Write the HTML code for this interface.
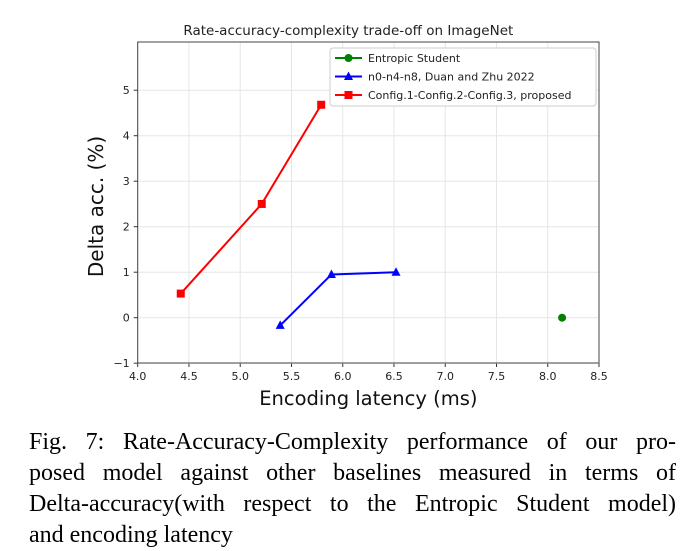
<!DOCTYPE html>
<html><head><meta charset="utf-8"><style>
body{margin:0;background:#fff;width:688px;height:547px;overflow:hidden;position:relative}
svg text{font-family:"DejaVu Sans","Liberation Sans",sans-serif}
.cap{position:absolute;left:29px;top:427px;width:647px;font-family:"Liberation Serif",serif;font-size:24px;line-height:31px;color:#000}
.cap div{text-align:justify;text-align-last:justify;white-space:nowrap}
.cap div.last{text-align-last:left}
</style></head><body>
<svg id="chart" width="688" height="420" style="position:absolute;left:0;top:0"></svg>
<div class="cap">
<div>Fig. 7: Rate-Accuracy-Complexity performance of our pro-</div>
<div>posed model against other baselines measured in terms of</div>
<div>Delta-accuracy(with respect to the Entropic Student model)</div>
<div class="last">and encoding latency</div>
</div>
<script>
const xTicks=[4.0,4.5,5.0,5.5,6.0,6.5,7.0,7.5,8.0,8.5];
const yTicks=[-1,0,1,2,3,4,5];
const entropicX=[8.14], entropicY=[0];
const duanX=[5.39,5.89,6.52], duanY=[-0.17,0.95,1.0];
const propX=[4.42,5.21,5.79], propY=[0.53,2.5,4.68];
const L=137.7,R=599,T=42,B=363;
const X=v=>L+(v-4)/(4.5)*(R-L);
const Y=v=>317.7-v*45.5;
const svg=document.getElementById('chart');
const NS='http://www.w3.org/2000/svg';
function mk(t,a,p){const e=document.createElementNS(NS,t);for(const k in a)e.setAttribute(k,a[k]);(p||svg).appendChild(e);return e;}
xTicks.forEach(v=>{const l=mk('line',{x1:X(v),x2:X(v),y1:T,y2:B,stroke:'#e6e6e6','stroke-width':1});

mk('line',{x1:X(v),x2:X(v),y1:B,y2:B+4,stroke:'#333'});
const t=mk('text',{x:X(v),y:B+17,'text-anchor':'middle','font-size':11,fill:'#222'});t.textContent=v.toFixed(1);
});
yTicks.forEach(v=>{const l=mk('line',{x1:L,x2:R,y1:Y(v),y2:Y(v),stroke:'#e6e6e6','stroke-width':1});

mk('line',{x1:L-4,x2:L,y1:Y(v),y2:Y(v),stroke:'#333'});
const t=mk('text',{x:L-8,y:Y(v)+4,'text-anchor':'end','font-size':11,fill:'#222'});t.textContent=v<0?'\u2212'+Math.abs(v):String(v);
});
const fr=mk('rect',{x:L,y:T,width:R-L,height:B-T,fill:'none',stroke:'#444','stroke-width':1});

function series(xs,ys,color,marker,name){
 const g=mk('g',{});
 if(xs.length>1)mk('polyline',{points:xs.map((x,i)=>X(x)+','+Y(ys[i])).join(' '),fill:'none',stroke:color,'stroke-width':2},g);
 xs.forEach((x,i)=>drawMarker(X(x),Y(ys[i]),color,marker,g));}
function drawMarker(cx,cy,c,m,g){
 if(m==='o')mk('circle',{cx,cy,r:4,fill:c},g);
 else if(m==='s')mk('rect',{x:cx-4,y:cy-4,width:8,height:8,fill:c},g);
 else mk('polygon',{points:`${cx},${cy-5} ${cx-4.5},${cy+3.5} ${cx+4.5},${cy+3.5}`,fill:c},g);}
series(propX,propY,'#ff0000','s','series-proposed');
series(duanX,duanY,'#0000ff','^','series-duan-zhu');
series(entropicX,entropicY,'#008000','o','series-entropic-student');
const tt=mk('text',{x:(L+R)/2-20,y:35,'text-anchor':'middle','font-size':13.5,fill:'#222'});tt.textContent='Rate-accuracy-complexity trade-off on ImageNet';

const xt=mk('text',{x:(L+R)/2,y:405,'text-anchor':'middle','font-size':19.5,fill:'#111'});xt.textContent='Encoding latency (ms)';

const yt=mk('text',{x:0,y:0,'text-anchor':'middle','font-size':20,fill:'#111',transform:`translate(103,${(T+B)/2+4}) rotate(-90)`});yt.textContent='Delta acc. (%)';

const lg=mk('g',{});
mk('rect',{x:330,y:48,width:266,height:58,fill:'#fff',stroke:'#ccc',rx:3},lg);
[['Entropic Student','#008000','o'],['n0-n4-n8, Duan and Zhu 2022','#0000ff','^'],['Config.1-Config.2-Config.3, proposed','#ff0000','s']].forEach((e,i)=>{
 const y=58+i*18.5;const ge=mk('g',{},lg);
 mk('line',{x1:335,x2:362,y1:y,y2:y,stroke:e[1],'stroke-width':2},ge);drawMarker(348.5,y,e[1],e[2],ge);
 const t=mk('text',{x:368,y:y+4,'font-size':11,fill:'#222'},ge);t.textContent=e[0];});
</script>
</body></html>
